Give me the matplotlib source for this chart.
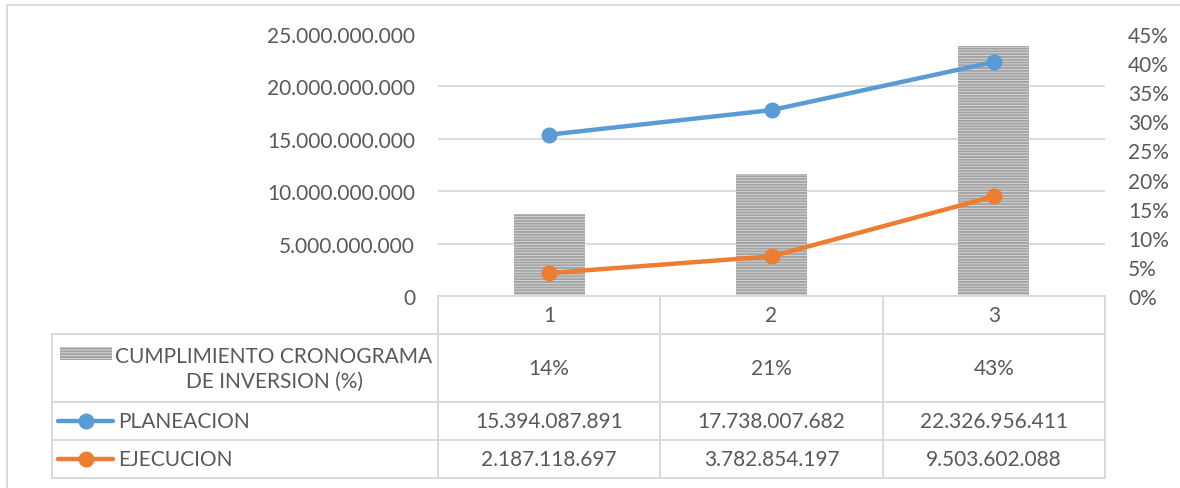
import matplotlib
matplotlib.use('Agg')
import matplotlib.pyplot as plt
from matplotlib.lines import Line2D
from matplotlib.patches import Rectangle
from matplotlib import transforms

# ---------------- data ----------------
categories = ['1', '2', '3']
cumplimiento = [0.14, 0.21, 0.43]
planeacion = [15394087891, 17738007682, 22326956411]
ejecucion = [2187118697, 3782854197, 9503602088]
left_ticks = [0, 5e9, 10e9, 15e9, 20e9, 25e9]
right_ticks = [0, 0.05, 0.10, 0.15, 0.20, 0.25, 0.30, 0.35, 0.40, 0.45]
series_names = ['CUMPLIMIENTO CRONOGRAMA\nDE INVERSION (%)', 'PLANEACION', 'EJECUCION']

# ---------------- style ----------------
TXT = '#595959'
GRID = '#D9D9D9'
BLUE = '#5B9BD5'
ORANGE = '#ED7D31'
BAR_FACE = '#DCDCDC'
BAR_HATCH = '#A3A3A3'
FS = 15
plt.rcParams['font.family'] = ['Lato', 'DejaVu Sans']
plt.rcParams['hatch.linewidth'] = 1.4

W, H = 1180, 489
fig = plt.figure(figsize=(W / 100, H / 100), dpi=100)


def fx(px):
    return px / W


def fy(py):
    return 1 - py / H


def thousands(v):
    return f"{int(round(v)):,}".replace(',', '.')


# ---------------- axes ----------------
L, R, T, B = 438, 1105, 35, 297
ax = fig.add_axes([fx(L), fy(B), fx(R) - fx(L), fy(T) - fy(B)])
ax2 = ax.twinx()
ax.set_zorder(2)
ax2.set_zorder(1)
ax.patch.set_visible(False)

x = list(range(len(categories)))
ax.set_xlim(-0.5, len(categories) - 0.5)
ax.set_ylim(left_ticks[0], left_ticks[-1])
ax2.set_ylim(right_ticks[0], right_ticks[-1])

# bars (secondary axis)
ax2.bar(x, cumplimiento, width=0.32, color=BAR_FACE, edgecolor=BAR_HATCH,
        hatch='------', linewidth=0, zorder=2)

# gridlines matching primary ticks, drawn behind the bars
ax2.set_yticks([t / left_ticks[-1] * right_ticks[-1] for t in left_ticks], minor=True)
ax2.grid(which='minor', axis='y', color=GRID, linewidth=1.3, zorder=0)
ax2.set_axisbelow(True)
ax2.tick_params(which='minor', length=0)

# lines (primary axis)
ax.plot(x, planeacion, color=BLUE, lw=3.2, marker='o', markersize=10.5, zorder=3,
        solid_capstyle='round')
ax.plot(x, ejecucion, color=ORANGE, lw=3.2, marker='o', markersize=10.5, zorder=3,
        solid_capstyle='round')

ax.set_yticks(left_ticks)
ax.set_yticklabels([thousands(t) for t in left_ticks])
ax2.set_yticks(right_ticks)
ax2.set_yticklabels([f"{round(t * 100)}%" for t in right_ticks])
ax.set_xticks([])
for a in (ax, ax2):
    a.tick_params(axis='y', which='major', length=0, pad=16.5, labelsize=FS, labelcolor=TXT)
    for s in a.spines.values():
        s.set_visible(False)

# ---------------- data table ----------------
tx = transforms.blended_transform_factory(ax.transData, fig.transFigure)


def hline(x0, x1, y):
    fig.add_artist(Line2D([fx(x0), fx(x1)], [fy(y), fy(y)], color=GRID, lw=1.4,
                          transform=fig.transFigure))


def vline(xp, y0, y1):
    fig.add_artist(Line2D([fx(xp), fx(xp)], [fy(y0), fy(y1)], color=GRID, lw=1.4,
                          transform=fig.transFigure))


rows_y = [B, 335, 403, 441, 479]
col_x = [L, 660, 883, R]
LEG_L = 52
hline(L, R, B)
for y in rows_y[1:]:
    hline(LEG_L, R, y)
for xp in col_x:
    vline(xp, B, rows_y[-1])
vline(LEG_L, rows_y[1], rows_y[-1])

# header row
for i, c in enumerate(categories):
    fig.text(i, fy((rows_y[0] + rows_y[1]) / 2), c, transform=tx, ha='center', va='center',
             fontsize=FS, color=TXT)

row_vals = [
    [f"{round(v * 100)}%" for v in cumplimiento],
    [thousands(v) for v in planeacion],
    [thousands(v) for v in ejecucion],
]
for r, vals in enumerate(row_vals):
    yc = fy((rows_y[r + 1] + rows_y[r + 2]) / 2)
    for i, v in enumerate(vals):
        fig.text(i, yc, v, transform=tx, ha='center', va='center', fontsize=FS, color=TXT)

# legend keys
yc1 = (rows_y[1] + rows_y[2]) / 2
fig.add_artist(Rectangle((fx(60), fy(361)), fx(112) - fx(60), fy(348) - fy(361),
                         transform=fig.transFigure, facecolor=BAR_FACE, edgecolor=BAR_HATCH,
                         hatch='------', linewidth=0))
fig.text(fx(274), fy(yc1), series_names[0], ha='center', va='center', multialignment='center',
         fontsize=FS, color=TXT, linespacing=1.3)
for r, col in ((1, BLUE), (2, ORANGE)):
    yc = (rows_y[r + 1] + rows_y[r + 2]) / 2
    fig.add_artist(Line2D([fx(58), fx(113)], [fy(yc), fy(yc)], color=col, lw=3.2,
                          solid_capstyle='round', transform=fig.transFigure))
    fig.add_artist(Line2D([fx(85.5)], [fy(yc)], color=col, marker='o', markersize=10.5,
                          transform=fig.transFigure))
    fig.text(fx(118), fy(yc), series_names[r], ha='left', va='center', fontsize=FS, color=TXT)

# outer chart border (left and top visible)
fig.add_artist(Line2D([fx(7), fx(7), fx(W + 5)], [fy(H + 5), fy(6), fy(6)], color=GRID,
                      lw=1.4, transform=fig.transFigure))

fig.savefig('out.png', dpi=100, facecolor='white')
